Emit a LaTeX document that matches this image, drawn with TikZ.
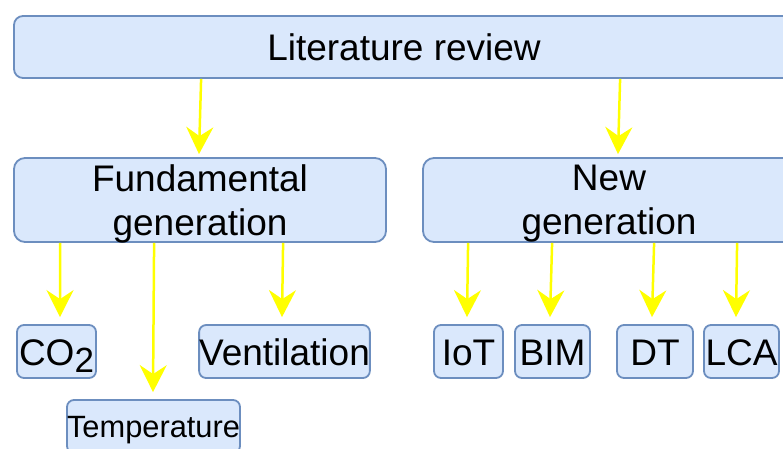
\documentclass[tikz,border=0pt]{standalone}
\usepackage{fontspec}
\setmainfont{Liberation Sans}
\usetikzlibrary{arrows.meta,positioning}
\definecolor{boxfill}{HTML}{DAE8FC}
\definecolor{boxline}{HTML}{6C8EBF}
\definecolor{arrowyellow}{HTML}{FFFF00}

\begin{document}
\begin{tikzpicture}[x=1pt, y=-1pt, >={Stealth[length=27pt,width=27pt,inset=9pt]}]
        \tikzstyle{box} = [draw=boxline, fill=boxfill, line width=1.8pt, rectangle, rounded corners=9pt, inner sep=0pt, font=\fontsize{37}{44}\selectfont, align=center]
        \tikzstyle{big} = [box, rounded corners=11pt, minimum width=372pt, minimum height=84pt]
        \tikzstyle{leaf} = [box, rounded corners=7pt, minimum height=53pt, text height=27pt, text depth=0pt]
        \tikzstyle{link} = [->, draw=arrowyellow, line width=2.5pt]

        \useasboundingbox (0,0) rectangle (783,448);
        \clip (0,0) rectangle (783,448);

        \node [box, minimum width=780pt, minimum height=62pt] (lit) at (404,47) {Literature review};
        \node [big] (fund) at (200,200) {\parbox[c][84pt][t]{372pt}{\centering\vspace*{7pt}Fundamental\\generation}};
        \node [big, right of=fund, node distance=409pt] (newg) {\parbox[c][84pt][t]{372pt}{\centering\vspace*{7pt}New\\generation}};

        \node [leaf, minimum width=79pt] (co2) at (56.5,351.5) {CO\raisebox{-7pt}{\fontsize{35}{40}\selectfont 2}};
        \node [leaf, minimum width=169pt, right of=co2, node distance=228pt] (vent) {Ventilation};
        \node [leaf, minimum width=173pt, text height=22pt, font=\fontsize{30.8}{36}\selectfont] (temp) at (153.5,426.5) {Temperature};
        \node [leaf, minimum width=69pt] (iot) at (468.5,351.5) {IoT};
        \node [leaf, minimum width=75pt, right of=iot, node distance=84pt] (bim) {BIM};
        \node [leaf, minimum width=76pt, right of=bim, node distance=102.5pt] (dt) {DT};
        \node [leaf, minimum width=75pt, right of=dt, node distance=86.5pt] (lca) {LCA};

        \draw [link] ([xshift=188pt]lit.south west) -- ([xshift=-1pt,yshift=3pt]fund.north);
        \draw [link] ([xshift=607pt]lit.south west) -- ([xshift=9pt,yshift=3pt]newg.north);
        \draw [link] ([xshift=47pt]fund.south west) -- ([xshift=3.5pt,yshift=7pt]co2.north);
        \draw [link] ([xshift=141pt]fund.south west) -- ([xshift=-0.5pt,yshift=7pt]temp.north);
        \draw [link] ([xshift=270pt]fund.south west) -- ([xshift=-2.5pt,yshift=7pt]vent.north);
        \draw [link] ([xshift=46pt]newg.south west) -- ([xshift=-1.5pt,yshift=7pt]iot.north);
        \draw [link] ([xshift=130pt]newg.south west) -- ([xshift=-2.5pt,yshift=7pt]bim.north);
        \draw [link] ([xshift=232pt]newg.south west) -- ([xshift=-3pt,yshift=7pt]dt.north);
        \draw [link] ([xshift=315pt]newg.south west) -- ([xshift=-5.5pt,yshift=7pt]lca.north);
    \end{tikzpicture}
\end{document}
